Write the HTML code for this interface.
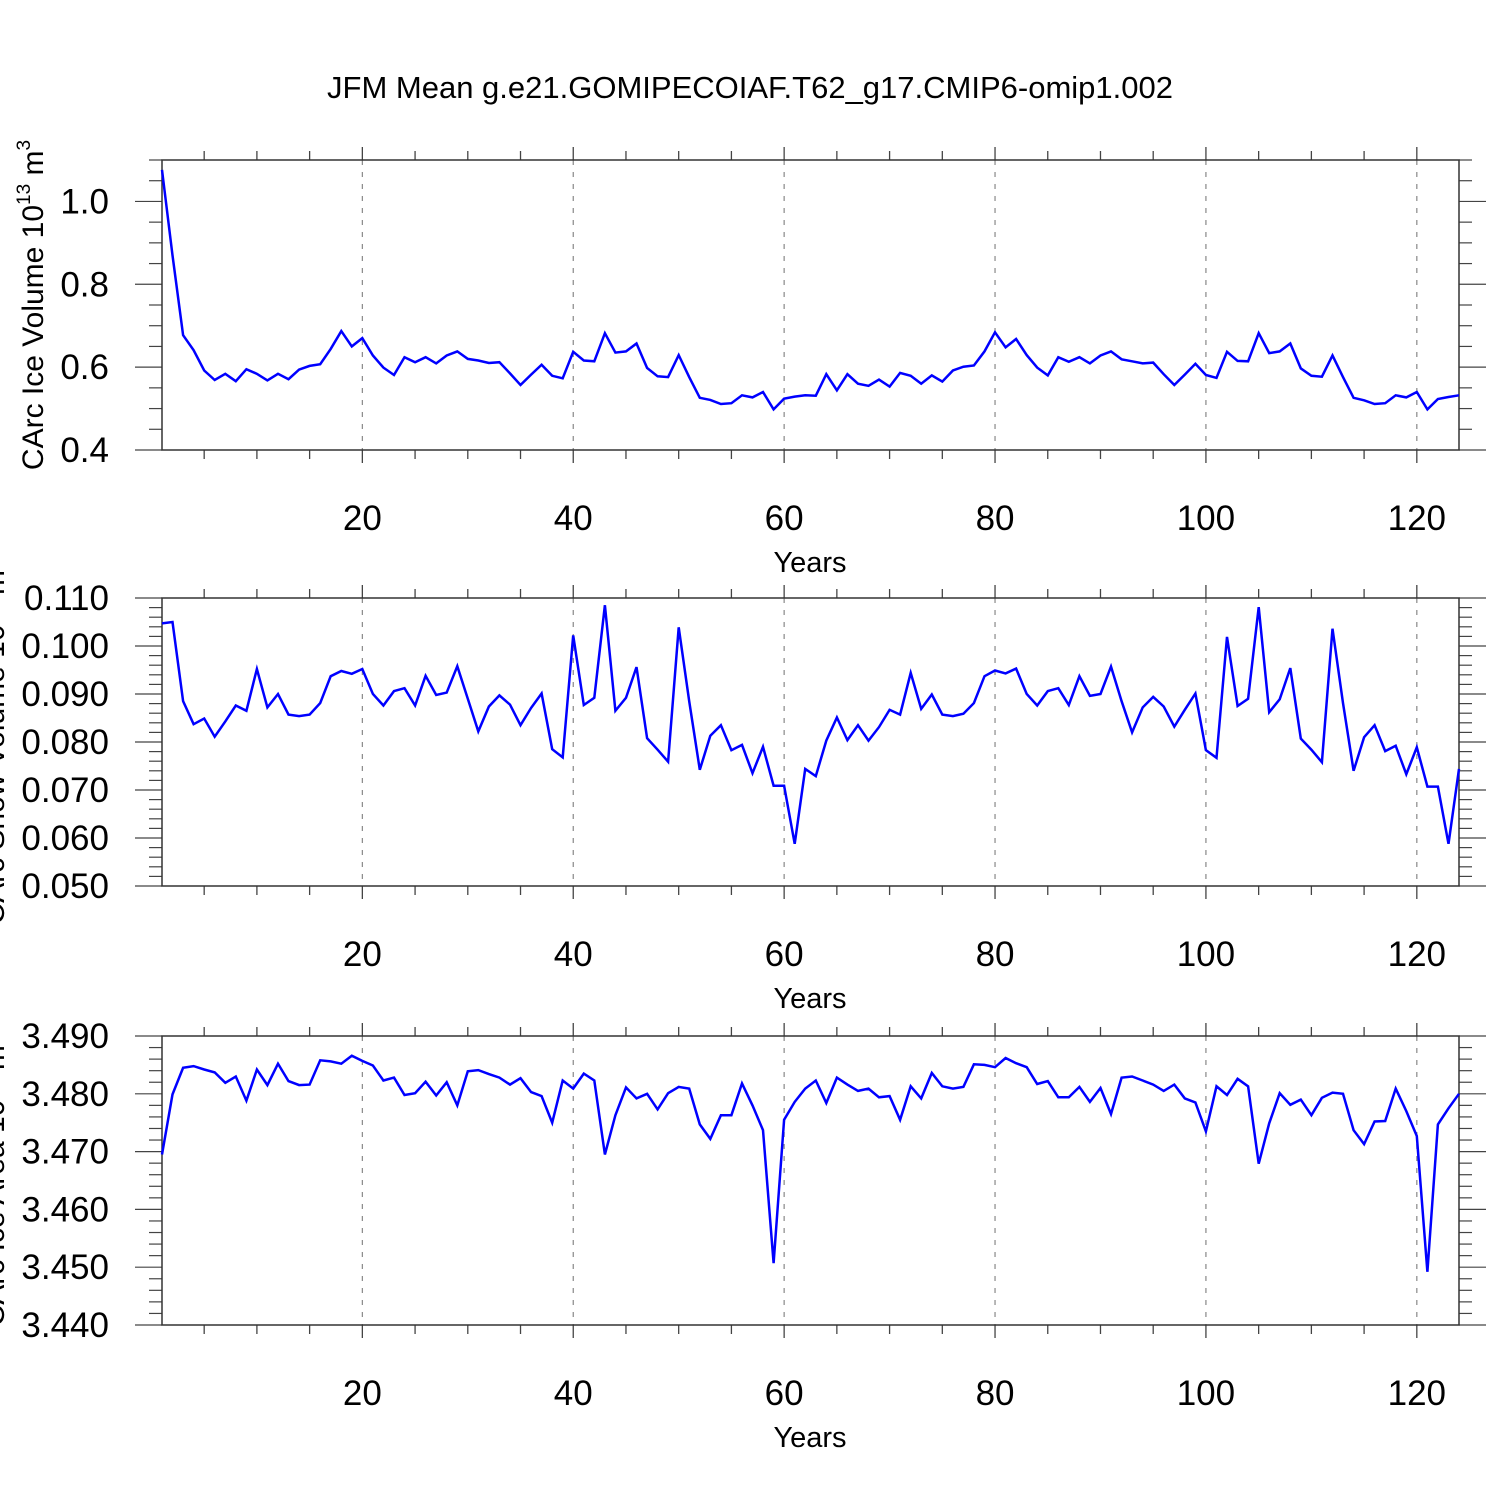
<!DOCTYPE html>
<html><head><meta charset="utf-8"><style>
html,body{margin:0;padding:0;background:#fff;}
svg{display:block;font-family:"Liberation Sans",sans-serif;}
</style></head><body>
<svg id="chart" width="1500" height="1500" viewBox="0 0 1500 1500" xmlns="http://www.w3.org/2000/svg">
<text x="750" y="98" font-size="31" text-anchor="middle">JFM Mean g.e21.GOMIPECOIAF.T62_g17.CMIP6-omip1.002</text>
</svg>
<script>
const years = Array.from({length:124},(_, i)=>i+1);
const xTickLabels = [20,40,60,80,100,120];
const iceVolume = [1.076,0.87,0.677,0.641,0.592,0.569,0.584,0.566,0.595,0.584,0.568,0.584,0.571,0.594,0.603,0.607,0.644,0.687,0.650,0.670,0.628,0.599,0.581,0.624,0.612,0.624,0.609,0.628,0.638,0.620,0.616,0.610,0.612,0.585,0.557,0.582,0.606,0.579,0.573,0.637,0.616,0.614,0.682,0.635,0.638,0.657,0.598,0.578,0.576,0.629,0.576,0.526,0.521,0.511,0.513,0.532,0.527,0.540,0.498,0.524,0.529,0.532,0.531,0.583,0.544,0.583,0.560,0.555,0.570,0.553,0.586,0.579,0.560,0.580,0.565,0.592,0.601,0.604,0.638,0.684,0.648,0.668,0.629,0.599,0.580,0.624,0.613,0.624,0.609,0.628,0.638,0.619,0.614,0.609,0.611,0.583,0.557,0.582,0.608,0.581,0.574,0.637,0.615,0.614,0.682,0.634,0.638,0.657,0.597,0.579,0.577,0.628,0.576,0.526,0.520,0.511,0.513,0.532,0.527,0.540,0.498,0.523,0.528,0.532];
const snowVolume = [0.1047,0.1050,0.0885,0.0837,0.0849,0.0811,0.0843,0.0876,0.0865,0.0952,0.0872,0.0900,0.0857,0.0854,0.0857,0.0881,0.0937,0.0948,0.0942,0.0952,0.0900,0.0876,0.0906,0.0912,0.0876,0.0938,0.0898,0.0903,0.0958,0.0890,0.0822,0.0874,0.0897,0.0878,0.0835,0.0871,0.0901,0.0785,0.0768,0.1022,0.0877,0.0892,0.1085,0.0865,0.0892,0.0956,0.0808,0.0784,0.0759,0.1039,0.0885,0.0742,0.0813,0.0835,0.0783,0.0794,0.0735,0.0790,0.0709,0.0709,0.0588,0.0744,0.0729,0.0803,0.0851,0.0804,0.0835,0.0803,0.0831,0.0867,0.0857,0.0944,0.0869,0.0899,0.0857,0.0854,0.0859,0.0881,0.0937,0.0949,0.0943,0.0953,0.0900,0.0876,0.0906,0.0912,0.0877,0.0937,0.0896,0.0900,0.0957,0.0885,0.0820,0.0872,0.0894,0.0874,0.0832,0.0867,0.0901,0.0783,0.0767,0.1019,0.0875,0.0890,0.1081,0.0862,0.0889,0.0954,0.0807,0.0784,0.0758,0.1036,0.0881,0.0740,0.0810,0.0835,0.0781,0.0792,0.0733,0.0789,0.0707,0.0707,0.0588,0.0744];
const iceArea = [3.4695,3.4799,3.4845,3.4848,3.4842,3.4837,3.4819,3.4830,3.4788,3.4842,3.4815,3.4852,3.4822,3.4815,3.4816,3.4858,3.4856,3.4852,3.4866,3.4857,3.4849,3.4823,3.4828,3.4798,3.4801,3.4821,3.4797,3.4820,3.4780,3.4839,3.4841,3.4834,3.4828,3.4816,3.4827,3.4803,3.4796,3.4750,3.4823,3.4809,3.4835,3.4823,3.4695,3.4763,3.4811,3.4792,3.4800,3.4773,3.4801,3.4812,3.4809,3.4747,3.4722,3.4763,3.4763,3.4818,3.4780,3.4737,3.4507,3.4755,3.4786,3.4809,3.4823,3.4784,3.4828,3.4816,3.4805,3.4809,3.4794,3.4796,3.4755,3.4813,3.4792,3.4836,3.4813,3.4809,3.4812,3.4851,3.4850,3.4846,3.4862,3.4853,3.4846,3.4817,3.4822,3.4794,3.4794,3.4812,3.4786,3.4810,3.4765,3.4828,3.4830,3.4823,3.4816,3.4805,3.4816,3.4792,3.4785,3.4735,3.4813,3.4798,3.4826,3.4813,3.4679,3.4749,3.4801,3.4781,3.4790,3.4763,3.4793,3.4802,3.4800,3.4737,3.4713,3.4752,3.4753,3.4809,3.4770,3.4727,3.4492,3.4747,3.4775,3.4800];
const iceVolTicks = [0.4,0.6,0.8,1.0];
const snowTicks = [0.050,0.060,0.070,0.080,0.090,0.100,0.110];
const areaTicks = [3.440,3.450,3.460,3.470,3.480,3.490];

const NS="http://www.w3.org/2000/svg";
const svg=document.getElementById('chart');
const L=162,R=1459,X0=1,X1=124;
function xs(v){return L+(v-X0)/(X1-X0)*(R-L);}
function mk(tag,attrs,parent){const e=document.createElementNS(NS,tag);for(const k in attrs)e.setAttribute(k,attrs[k]);(parent||svg).appendChild(e);return e;}

function panel(cfg){
  const g=mk('g',{});
  
  
  const T=cfg.top,B=cfg.bottom;
  const ys=v=>B-(v-cfg.ymin)/(cfg.ymax-cfg.ymin)*(B-T);
  xTickLabels.forEach(t=>{
    const l=mk('line',{x1:xs(t),x2:xs(t),y1:T,y2:B,stroke:'#888','stroke-width':1.2,'stroke-dasharray':'5,7'},g);
    
    
  });
  for(let t=5;t<=124;t+=5){
    const maj=t%20===0, len=maj?13:9;
    mk('line',{x1:xs(t),x2:xs(t),y1:B,y2:B+len,stroke:'#444','stroke-width':1.3},g);
    mk('line',{x1:xs(t),x2:xs(t),y1:T,y2:T-len,stroke:'#444','stroke-width':1.3},g);
  }
  for(let v=cfg.ymin;v<=cfg.ymax+1e-9;v+=cfg.minor){
    const isMaj=cfg.ticks.some(t=>Math.abs(t-v)<1e-9);
    const len=isMaj?27:13;
    mk('line',{x1:L,x2:L-len,y1:ys(v),y2:ys(v),stroke:'#444','stroke-width':1.2},g);
    mk('line',{x1:R,x2:R+len,y1:ys(v),y2:ys(v),stroke:'#444','stroke-width':1.2},g);
  }
  cfg.ticks.forEach(t=>{
    const tx=mk('text',{x:109,y:ys(t)+12,'font-size':35,'text-anchor':'end'},g);
    
    
    tx.textContent=t.toFixed(cfg.dec);
  });
  xTickLabels.forEach(t=>{
    const tx=mk('text',{x:xs(t),y:B+80,'font-size':35,'text-anchor':'middle'},g);
    
    
    tx.textContent=t;
  });
  const xt=mk('text',{x:810,y:B+122,'font-size':29,'text-anchor':'middle'},g);
  
  
  xt.textContent='Years';
  const yt=mk('text',{transform:`translate(${cfg.ytx},${(T+B)/2}) rotate(-90)`,'font-size':30,'text-anchor':'middle'},g);
  
  
  yt.innerHTML=cfg.ytitle;
  const fr=mk('rect',{x:L,y:T,width:R-L,height:B-T,fill:'none',stroke:'#333','stroke-width':1.5},g);
  
  
  const pts=cfg.data.map((v,i)=>xs(years[i]).toFixed(1)+','+ys(v).toFixed(1)).join(' ');
  const pl=mk('polyline',{points:pts,fill:'none',stroke:'#0000ff','stroke-width':2.5,'stroke-linejoin':'miter'},g);
  
  
}
panel({name:'ice-volume-panel',series:'ice-volume-line',top:160,bottom:450,ymin:0.4,ymax:1.1,minor:0.05,ticks:iceVolTicks,dec:1,data:iceVolume,ytx:43,
  ytitle:'CArc Ice Volume 10<tspan dy="-13" font-size="19">13</tspan><tspan dy="13"> m</tspan><tspan dy="-13" font-size="19">3</tspan>'});
panel({name:'snow-volume-panel',series:'snow-volume-line',top:598,bottom:886,ymin:0.05,ymax:0.11,minor:0.002,ticks:snowTicks,dec:3,data:snowVolume,ytx:4,
  ytitle:'CArc Snow Volume 10<tspan dy="-13" font-size="19">13</tspan><tspan dy="13"> m</tspan><tspan dy="-13" font-size="19">3</tspan>'});
panel({name:'ice-area-panel',series:'ice-area-line',top:1036,bottom:1325,ymin:3.44,ymax:3.49,minor:0.002,ticks:areaTicks,dec:3,data:iceArea,ytx:4,
  ytitle:'CArc Ice Area 10<tspan dy="-13" font-size="19">13</tspan><tspan dy="13"> m</tspan><tspan dy="-13" font-size="19">2</tspan>'});
</script>
</body></html>
